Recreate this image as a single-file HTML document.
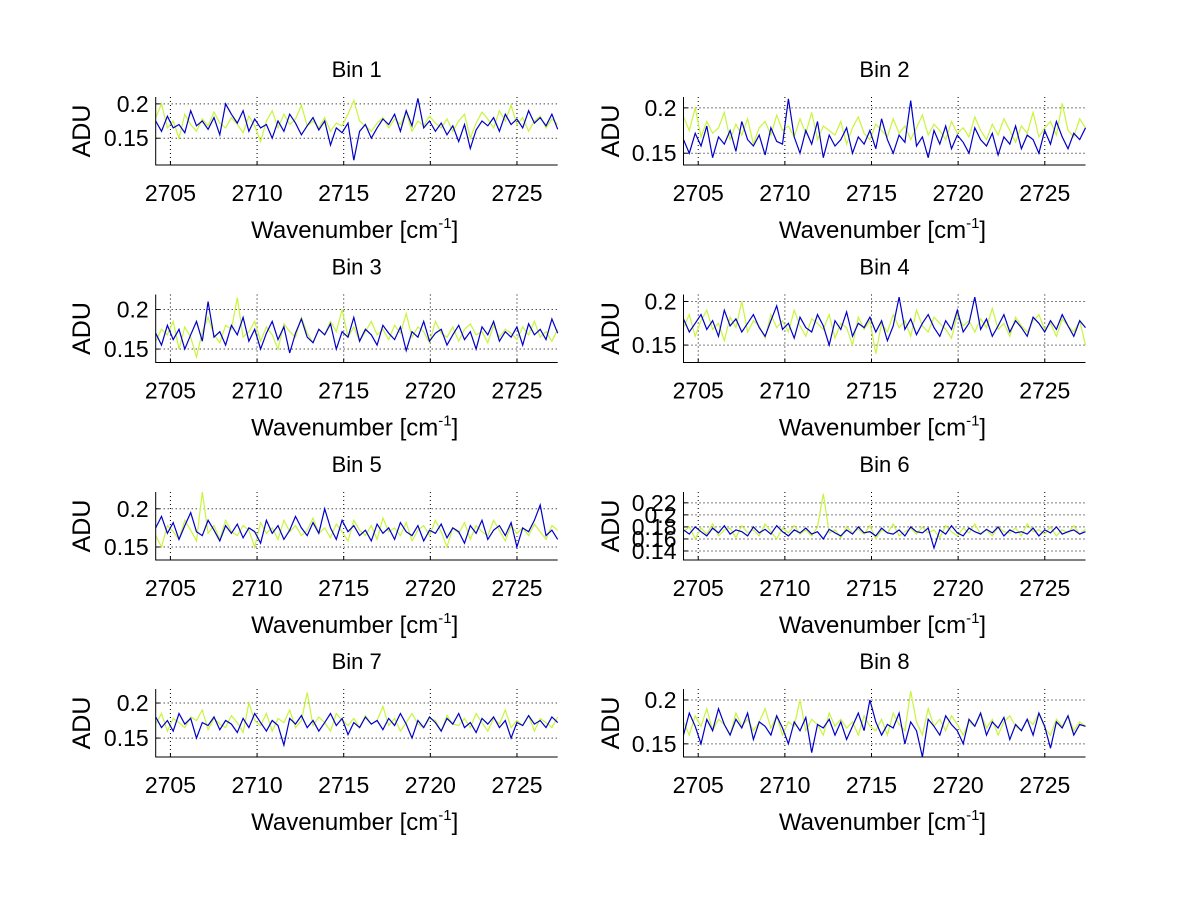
<!DOCTYPE html>
<html><head><meta charset="utf-8">
<style>
html,body{margin:0;padding:0;background:#fff;}
svg{display:block;font-family:"Liberation Sans",Arial,sans-serif;}
</style></head>
<body>
<svg id="fig" width="1200" height="901" viewBox="0 0 1200 901" xmlns="http://www.w3.org/2000/svg"></svg>
<script>
// ---- data ----
const binTitles = ["Bin 1","Bin 2","Bin 3","Bin 4","Bin 5","Bin 6","Bin 7","Bin 8"];
const xTickLabels = [2705, 2710, 2715, 2720, 2725];
const xStart = 2704.15;
const xEnd = 2727.35;
const yRanges = [[0.111,0.21],[0.137,0.212],[0.133,0.219],[0.13,0.208],[0.133,0.222],[0.125,0.238],[0.123,0.22],[0.135,0.2125]];
const yTicks1 = [0.15,0.2];
const yTicks6 = [0.14,0.16,0.18,0.2,0.22];
const yTickText1 = ["0.15","0.2"];
const yTickText6 = ["0.14","0.16","0.18","0.2","0.22"];

const blue1 = [.175,.160,.182,.165,.170,.158,.190,.168,.175,.163,.180,.155,.200,.185,.172,.190,.160,.178,.165,.170,.150,.175,.160,.185,.172,.155,.168,.180,.162,.175,.140,.165,.158,.172,.118,.160,.170,.150,.165,.178,.170,.185,.160,.190,.168,.208,.165,.175,.160,.172,.155,.168,.145,.170,.135,.162,.175,.168,.180,.160,.185,.170,.178,.165,.190,.172,.180,.168,.185,.163];
const green1 = [.180,.200,.165,.175,.150,.185,.170,.160,.178,.168,.188,.172,.165,.180,.170,.158,.182,.168,.145,.175,.190,.165,.185,.170,.178,.198,.168,.175,.165,.180,.160,.172,.168,.185,.205,.175,.168,.160,.172,.180,.165,.178,.170,.188,.160,.175,.168,.182,.172,.165,.178,.160,.175,.185,.150,.172,.188,.178,.165,.190,.175,.198,.170,.180,.160,.175,.182,.165,.178,.170];
const blue2 = [.165,.150,.172,.158,.180,.145,.168,.160,.175,.152,.185,.165,.158,.170,.148,.178,.163,.160,.210,.168,.150,.175,.160,.185,.145,.170,.158,.165,.178,.150,.168,.160,.175,.155,.188,.165,.150,.170,.162,.208,.158,.168,.145,.175,.160,.180,.155,.170,.162,.150,.178,.165,.158,.172,.148,.168,.160,.180,.155,.170,.165,.150,.175,.160,.185,.168,.155,.172,.165,.178];
const green2 = [.190,.175,.200,.168,.185,.172,.178,.195,.165,.182,.170,.188,.160,.178,.185,.170,.192,.175,.180,.168,.188,.172,.195,.165,.180,.175,.170,.185,.160,.178,.190,.172,.165,.182,.175,.168,.188,.172,.180,.165,.178,.192,.170,.182,.175,.165,.185,.172,.178,.168,.190,.175,.165,.182,.170,.188,.175,.162,.180,.172,.195,.168,.178,.185,.170,.205,.175,.168,.188,.178];
const blue3 = [.170,.155,.180,.162,.175,.150,.168,.185,.160,.210,.165,.172,.155,.180,.168,.190,.160,.175,.150,.170,.185,.162,.178,.145,.170,.188,.165,.158,.175,.168,.182,.150,.172,.165,.190,.160,.175,.168,.155,.180,.170,.162,.178,.148,.172,.165,.185,.160,.170,.175,.155,.168,.180,.162,.172,.150,.178,.168,.185,.160,.172,.165,.178,.155,.182,.168,.175,.162,.188,.170];
const green3 = [.160,.175,.168,.185,.150,.178,.165,.140,.172,.190,.168,.158,.180,.175,.215,.165,.172,.185,.160,.178,.168,.150,.182,.172,.165,.190,.170,.158,.175,.168,.185,.172,.200,.165,.178,.160,.172,.185,.168,.175,.162,.180,.170,.195,.165,.178,.172,.158,.185,.170,.165,.178,.160,.175,.182,.168,.172,.158,.180,.165,.175,.170,.162,.178,.168,.185,.165,.172,.160,.175];
const blue4 = [.180,.165,.175,.185,.168,.178,.160,.190,.172,.180,.165,.175,.185,.170,.160,.178,.195,.168,.175,.158,.182,.170,.165,.185,.172,.150,.178,.168,.188,.160,.175,.170,.182,.165,.178,.155,.172,.205,.168,.180,.162,.175,.185,.170,.160,.178,.168,.190,.165,.175,.205,.168,.180,.160,.172,.185,.165,.178,.170,.160,.182,.175,.165,.178,.168,.185,.172,.160,.178,.170];
const green4 = [.170,.185,.160,.178,.190,.168,.175,.155,.182,.170,.200,.165,.178,.172,.158,.185,.170,.178,.165,.190,.172,.160,.180,.175,.168,.185,.158,.175,.170,.150,.182,.168,.178,.140,.175,.165,.185,.170,.178,.160,.190,.172,.165,.182,.175,.168,.158,.185,.172,.178,.165,.180,.170,.192,.168,.175,.160,.182,.172,.165,.178,.185,.168,.175,.160,.180,.172,.165,.178,.150];
const blue5 = [.175,.190,.168,.182,.160,.178,.195,.170,.165,.185,.172,.158,.178,.168,.180,.162,.175,.170,.155,.185,.168,.178,.160,.172,.190,.175,.165,.182,.168,.200,.175,.160,.185,.170,.178,.165,.172,.158,.180,.168,.175,.160,.182,.170,.165,.178,.158,.172,.168,.180,.162,.175,.170,.155,.178,.168,.185,.160,.172,.178,.165,.182,.150,.175,.170,.185,.205,.165,.172,.160];
const green5 = [.165,.150,.178,.170,.160,.185,.172,.158,.225,.168,.178,.160,.185,.170,.165,.178,.172,.150,.182,.168,.175,.160,.185,.170,.178,.165,.172,.188,.168,.175,.162,.180,.170,.158,.185,.172,.165,.178,.160,.188,.170,.175,.165,.182,.158,.172,.178,.165,.185,.170,.150,.175,.168,.182,.160,.178,.170,.165,.185,.172,.158,.178,.168,.175,.165,.180,.170,.160,.178,.172];
const blue6 = [.175,.168,.180,.172,.165,.178,.170,.182,.168,.175,.172,.165,.180,.170,.176,.168,.182,.172,.165,.175,.170,.178,.168,.172,.160,.176,.170,.165,.175,.168,.180,.170,.172,.165,.178,.170,.168,.175,.165,.180,.172,.170,.178,.145,.175,.168,.182,.170,.165,.178,.172,.168,.176,.170,.180,.165,.175,.170,.172,.168,.178,.165,.175,.170,.180,.168,.172,.175,.168,.172];
const green6 = [.172,.180,.160,.178,.168,.185,.165,.175,.178,.162,.182,.170,.175,.165,.185,.172,.160,.178,.170,.182,.168,.175,.165,.180,.235,.170,.175,.162,.180,.170,.176,.168,.182,.160,.175,.170,.185,.165,.172,.178,.168,.180,.170,.175,.162,.182,.172,.165,.178,.170,.185,.168,.175,.165,.180,.172,.170,.178,.165,.185,.172,.175,.168,.180,.165,.175,.170,.182,.168,.176];
const blue7 = [.180,.165,.175,.160,.185,.170,.178,.150,.172,.168,.180,.162,.175,.170,.158,.178,.165,.185,.172,.160,.175,.168,.140,.178,.170,.182,.165,.175,.160,.172,.185,.168,.178,.155,.172,.165,.180,.170,.175,.162,.178,.168,.185,.170,.150,.175,.165,.180,.172,.160,.178,.170,.185,.165,.172,.158,.178,.170,.180,.165,.175,.150,.172,.168,.182,.170,.175,.165,.180,.172];
const green7 = [.170,.185,.160,.178,.172,.165,.180,.175,.190,.162,.178,.170,.165,.182,.172,.158,.200,.175,.168,.185,.160,.178,.172,.190,.165,.175,.215,.168,.180,.172,.160,.185,.175,.168,.178,.165,.182,.170,.175,.195,.168,.178,.160,.172,.185,.170,.165,.178,.175,.160,.182,.170,.168,.178,.165,.185,.172,.160,.178,.170,.190,.165,.175,.168,.182,.160,.178,.172,.165,.180];
const blue8 = [.160,.185,.170,.150,.178,.165,.190,.172,.160,.178,.168,.185,.155,.175,.170,.160,.182,.168,.150,.175,.165,.180,.140,.172,.168,.178,.160,.175,.155,.170,.185,.165,.200,.175,.160,.172,.168,.185,.150,.175,.165,.135,.178,.170,.160,.182,.172,.165,.150,.178,.170,.185,.160,.175,.168,.180,.155,.172,.165,.178,.160,.185,.170,.145,.175,.168,.182,.160,.172,.170];
const green8 = [.175,.160,.182,.170,.190,.165,.178,.172,.160,.185,.170,.178,.165,.175,.190,.168,.182,.160,.175,.170,.200,.165,.178,.172,.160,.185,.170,.178,.168,.175,.160,.182,.170,.165,.178,.160,.185,.172,.165,.210,.175,.160,.190,.170,.178,.165,.182,.172,.160,.175,.170,.185,.168,.178,.160,.175,.182,.170,.165,.178,.172,.185,.168,.160,.178,.170,.182,.165,.175,.170];
const blueSeries = [blue1,blue2,blue3,blue4,blue5,blue6,blue7,blue8];
const greenSeries = [green1,green2,green3,green4,green5,green6,green7,green8];

// ---- layout ----
const NS = "http://www.w3.org/2000/svg";
const svg = document.getElementById('fig');
const colX = [[155.7,557.7],[683.5,1085.5]];
const rowY = [[97,165],[294.5,362.5],[492,560],[689,757]];
function mk(tag, attrs, parent){ const e=document.createElementNS(NS,tag); for(const k in attrs) e.setAttribute(k,attrs[k]); (parent||svg).appendChild(e); return e; }

for(let p=0;p<8;p++){
  const c=p%2, r=Math.floor(p/2);
  const [L,R]=colX[c], [T,B]=rowY[r];
  const [ymin,ymax]=yRanges[p];
  const xs = v => L + (v - xStart)/(xEnd - xStart)*(R-L);
  const ys = v => B - (v - ymin)/(ymax - ymin)*(B-T);
  const g = mk('g',{});
  
  
  const t = mk('text',{x:(L+R)/2,y:T-20,'text-anchor':'middle','font-size':22,fill:'#000'},g);
  t.textContent = binTitles[p];
  
  
  const yt = p===5 ? yTicks6 : yTicks1;
  const ytt = p===5 ? yTickText6 : yTickText1;
  yt.forEach((v,i)=>{
    const yy=ys(v);
    const gl=mk('line',{x1:L,x2:R,y1:yy,y2:yy,stroke:'#000','stroke-width':1,'stroke-dasharray':'1,3'},g);
    
    
    mk('line',{x1:L,x2:L+4,y1:yy,y2:yy,stroke:'#000'},g);
    const lt=mk('text',{x:L-7,y:yy+8,'text-anchor':'end','font-size':23,fill:'#000'},g);
    lt.textContent=ytt[i];
    
    
  });
  xTickLabels.forEach(v=>{
    const xx=xs(v);
    const gl=mk('line',{x1:xx,x2:xx,y1:T,y2:B,stroke:'#000','stroke-width':1,'stroke-dasharray':'1,3'},g);
    
    
    mk('line',{x1:xx,x2:xx,y1:B,y2:B-4,stroke:'#000'},g);
    const lt=mk('text',{x:xx,y:B+36,'text-anchor':'middle','font-size':23,fill:'#000'},g);
    lt.textContent=v;
    
    
  });
  const drawSeries=(arr,color,name)=>{
    const n=arr.length;
    const pts=arr.map((v,i)=>{
      const wn = xStart + i*(xEnd-xStart)/(n-1);
      return xs(wn).toFixed(1)+','+ys(Math.max(ymin,Math.min(ymax,v))).toFixed(1);
    }).join(' ');
    const pl=mk('polyline',{points:pts,fill:'none',stroke:color,'stroke-width':1.2},g);
    
    
  };
  drawSeries(greenSeries[p],'#c8f53c','series-green');
  drawSeries(blueSeries[p],'#0000c8','series-blue');
  const ax=mk('path',{d:`M${L},${T} L${L},${B} L${R},${B}`,fill:'none',stroke:'#000','stroke-width':1},g);
  
  
  const xl=mk('text',{x:(L+R)/2-2,y:B+73,'text-anchor':'middle','font-size':24,fill:'#000'},g);
  xl.innerHTML='Wavenumber [cm<tspan font-size="15" dy="-10">-1</tspan><tspan dy="10">]</tspan>';
  
  
  const cx = c===0 ? 90 : 619, cy=(T+B)/2;
  const yl=mk('text',{x:cx,y:cy,'text-anchor':'middle','font-size':25,fill:'#000',transform:`rotate(-90 ${cx} ${cy})`},g);
  yl.textContent='ADU';
  
  
}
</script>
</body></html>
